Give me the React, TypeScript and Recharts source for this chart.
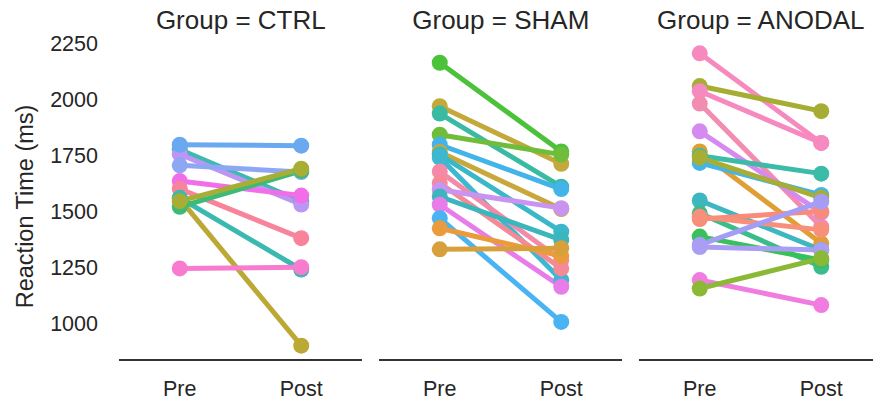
import React from 'react';
import { LineChart, Line, XAxis, YAxis } from 'recharts';

// condition labels on the x axis
const CONDITIONS = ['Pre', 'Post'];
const Y_TICKS = [1000, 1250, 1500, 1750, 2000, 2250];

// CTRL group: one entry per subject
const CTRL_PRE = [1555, 1775, 1755, 1705, 1635, 1600, 1560, 1520, 1545, 1797, 1245];
const CTRL_POST = [900, 1545, 1530, 1675, 1570, 1380, 1240, 1680, 1690, 1793, 1250];
const CTRL_COLORS = [
  '#bca834', '#3cbab0', '#bb96f4', '#8ea6f4', '#f26ee8', '#f7849a',
  '#39b9b0', '#3dbb76', '#a8ad34', '#6aa9f0', '#f77ccf',
];

// SHAM group
const SHAM_PRE = [2163, 1969, 1936, 1842, 1797, 1765, 1753, 1740, 1678, 1626, 1596, 1566, 1529, 1469, 1424, 1330];
const SHAM_POST = [1767, 1712, 1610, 1753, 1599, 1510, 1409, 1193, 1282, 1245, 1514, 1372, 1163, 1006, 1300, 1335];
const SHAM_COLORS = [
  '#4cc13a', '#c3a83a', '#39bba3', '#70bd3c', '#43b4ea', '#c8a83a', '#3ab8c8', '#3cb8d0',
  '#f489a8', '#f48a95', '#c993f2', '#3ab6bc', '#e87de9', '#4ab4f2', '#ea9c3c', '#d8a03a',
];

// ANODAL group
const ANODAL_PRE = [2205, 2059, 2036, 1981, 1857, 1767, 1748, 1716, 1740, 1548, 1491, 1465, 1475, 1387, 1350, 1340, 1193, 1155];
const ANODAL_POST = [1805, 1947, 1805, 1431, 1494, 1357, 1668, 1573, 1560, 1327, 1252, 1500, 1417, 1282, 1543, 1327, 1081, 1290];
const ANODAL_COLORS = [
  '#f68abf', '#a5ad33', '#f68ac0', '#f28cb0', '#d58af0', '#df9f35', '#3cbba9', '#43b5e6', '#a8ad34',
  '#3db7c0', '#3cbc8a', '#f98b78', '#f88f7a', '#38c05a', '#a39df5', '#aa9ef4', '#f07ce0', '#8bb935',
];

const FONT = "'Liberation Sans', Arial, sans-serif";
const TEXT = '#262626';
const Y_DOMAIN = [836, 2270];
const PLOT_W = 243;
const Y_AXIS_W = 119;

const buildRows = (pre: number[], post: number[]) => [
  pre.reduce<Record<string, number>>((acc, v, i) => ({ ...acc, [`s${i}`]: v }), { x: 0 }),
  post.reduce<Record<string, number>>((acc, v, i) => ({ ...acc, [`s${i}`]: v }), { x: 1 }),
];

const YTitle = ({ viewBox }: any) => {
  const cx = 33;
  const cy = viewBox.y + viewBox.height / 2 + 7;
  return (
    <text
      x={cx}
      y={cy}
      transform={`rotate(-90 ${cx} ${cy})`}
      textAnchor="middle"
      fontFamily={FONT}
      fontSize={23.5}
      fill={TEXT}
    >
      Reaction Time (ms)
    </text>
  );
};

type PanelProps = {
  title: string;
  pre: number[];
  post: number[];
  colors: string[];
  left: number;
  showY?: boolean;
};

const Panel: React.FC<PanelProps> = ({ title, pre, post, colors, left, showY }) => {
  const rows = buildRows(pre, post);
  const yw = showY ? Y_AXIS_W : 0;
  return (
    <div style={{ position: 'absolute', left: left - yw, top: 0 }}>
      <div
        style={{
          position: 'absolute',
          left: yw,
          width: PLOT_W,
          top: 7,
          textAlign: 'center',
          fontFamily: FONT,
          fontSize: 26,
          lineHeight: '26px',
          color: TEXT,
          whiteSpace: 'nowrap',
        }}
      >
        {title}
      </div>
      <LineChart
        width={yw + PLOT_W}
        height={404}
        data={rows}
        margin={{ top: 38.8, right: 0, bottom: 0, left: 0 }}
      >
        <XAxis
          dataKey="x"
          type="number"
          domain={[-0.5, 1.5]}
          ticks={[0, 1]}
          tickFormatter={(v: number) => CONDITIONS[v]}
          height={44}
          tickLine={false}
          tickMargin={15}
          axisLine={{ stroke: '#333', strokeWidth: 2 }}
          tick={{ fontFamily: FONT, fontSize: 21.5, fill: TEXT }}
        />
        {showY ? (
          <YAxis
            domain={Y_DOMAIN}
            ticks={Y_TICKS}
            allowDataOverflow
            width={Y_AXIS_W}
            axisLine={false}
            tickLine={false}
            tickMargin={15}
            tick={{ fontFamily: FONT, fontSize: 21.5, fill: TEXT }}
            label={<YTitle />}
          />
        ) : (
          <YAxis hide domain={Y_DOMAIN} allowDataOverflow />
        )}
        {pre.map((_, i) => (
          <Line
            key={`s${i}`}
            dataKey={`s${i}`}
            stroke={colors[i]}
            strokeWidth={5}
            dot={{ r: 8, fill: colors[i], stroke: colors[i], strokeWidth: 0 }}
            activeDot={false}
            isAnimationActive={false}
          />
        ))}
      </LineChart>
    </div>
  );
};

export default function App() {
  return (
    <div
      style={{
        position: 'absolute',
        left: 0,
        top: 0,
        width: 873,
        height: 404,
        overflow: 'hidden',
        background: '#fff',
      }}
    >
      <Panel title="Group = CTRL" pre={CTRL_PRE} post={CTRL_POST} colors={CTRL_COLORS} left={119.3} showY />
      <Panel title="Group = SHAM" pre={SHAM_PRE} post={SHAM_POST} colors={SHAM_COLORS} left={379.3} />
      <Panel title="Group = ANODAL" pre={ANODAL_PRE} post={ANODAL_POST} colors={ANODAL_COLORS} left={639.3} />
    </div>
  );
}
